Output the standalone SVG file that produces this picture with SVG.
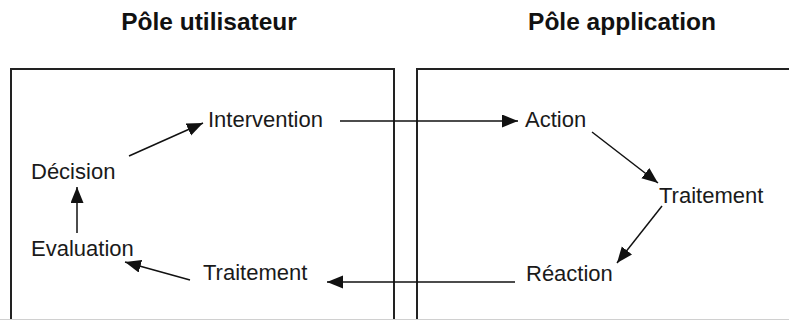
<svg xmlns="http://www.w3.org/2000/svg" width="789" height="320" viewBox="0 0 789 320">
  <defs>
    <marker id="ah" markerUnits="userSpaceOnUse" markerWidth="17" markerHeight="14" refX="16" refY="6.5" orient="auto">
      <path d="M0,0 L16,6.5 L0,13 z" fill="#111"/>
    </marker>
    <style>
      .title { font-family: "Liberation Sans", Arial, sans-serif; font-weight: bold; font-size: 24.5px; fill: #111; text-anchor: middle; }
      .lbl { font-family: "Liberation Sans", Arial, sans-serif; font-size: 22px; fill: #1a1a1a; }
      .box { fill: none; stroke: #222; stroke-width: 2; }
      .conn { stroke: #111; stroke-width: 1.5; fill: none; marker-end: url(#ah); }
    </style>
  </defs>
  <rect width="789" height="320" fill="#fff"/>

  <g id="title-user"><text class="title" x="209" y="30">Pôle utilisateur</text></g>
  <g id="title-app"><text class="title" x="622" y="30">Pôle application</text></g>

  <g id="pole-utilisateur"><rect class="box" x="11" y="69" width="383" height="270"/></g>
  <g id="pole-application"><rect class="box" x="417" y="69" width="390" height="270"/></g>
  <line x1="0" y1="319.5" x2="789" y2="319.5" stroke="#d0d0d0" stroke-width="1"/>

  <g id="intervention"><text class="lbl" x="208" y="127">Intervention</text></g>
  <g id="decision"><text class="lbl" x="31" y="179">Décision</text></g>
  <g id="evaluation"><text class="lbl" x="31" y="256">Evaluation</text></g>
  <g id="traitement-user"><text class="lbl" x="203" y="280">Traitement</text></g>
  <g id="action"><text class="lbl" x="525" y="127">Action</text></g>
  <g id="traitement-app"><text class="lbl" x="659" y="203">Traitement</text></g>
  <g id="reaction"><text class="lbl" x="526" y="281">Réaction</text></g>

  <g id="connectors">
    <line class="conn" x1="129" y1="156" x2="203" y2="123"/>
    <line class="conn" x1="77" y1="233" x2="77" y2="187"/>
    <line class="conn" x1="190" y1="280" x2="125" y2="262"/>
    <line class="conn" x1="340" y1="121" x2="518" y2="121"/>
    <line class="conn" x1="592" y1="132" x2="658" y2="183"/>
    <line class="conn" x1="662" y1="206" x2="617" y2="263"/>
    <line class="conn" x1="515" y1="282" x2="327" y2="282"/>
  </g>
</svg>
